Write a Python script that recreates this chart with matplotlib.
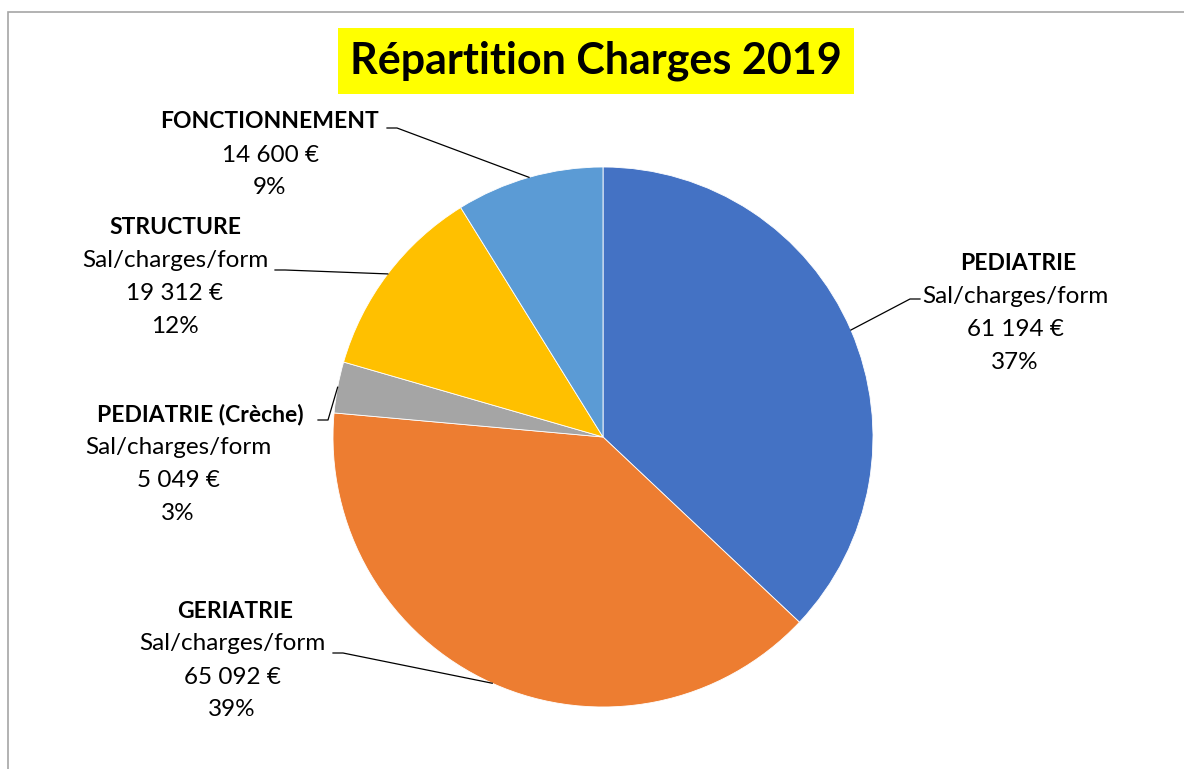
import numpy as np
import matplotlib
matplotlib.use("Agg")
import matplotlib.pyplot as plt
from matplotlib.patches import Rectangle

# data
categories = ["PEDIATRIE", "GERIATRIE", "PEDIATRIE (Crèche)", "STRUCTURE", "FONCTIONNEMENT"]
subtitles = ["Sal/charges/form", "Sal/charges/form", "Sal/charges/form", "Sal/charges/form", None]
amounts = [61194, 65092, 5049, 19312, 14600]
colors = ["#4472C4", "#ED7D31", "#A5A5A5", "#FFC000", "#5B9BD5"]

plt.rcParams['font.family'] = ['Lato', 'DejaVu Sans']

W, H = 1184, 769
CX, CY, R = 603, 437, 270  # pie centre / radius in pixels


def to_data(px, py):
    return (px - CX) / R, (CY - py) / R


fig = plt.figure(figsize=(W / 100, H / 100), dpi=100)
ax = fig.add_axes([0, 0, 1, 1])

wedges, _ = ax.pie(amounts, colors=colors, startangle=90, counterclock=False,
                   radius=1, center=(0, 0), frame=True,
                   wedgeprops=dict(edgecolor="white", linewidth=0.6))
ax.set_xlim(-CX / R, (W - CX) / R)
ax.set_ylim(-(H - CY) / R, CY / R)
ax.axis("off")

total = sum(amounts)

# label layout: centre x of text block, y of first line, leader start (px)
label_pos = [(1015, 264), (232, 611), (178, 415), (175, 228), (270, 122)]
name_dx = [3, 3, 22, 0, 0]  # bold name line is offset a little
leader_start = [(920, 299), (333, 653), (318, 420), (275, 270), (387, 128)]
leader_dir = [-1, 1, 1, 1, 1]
line_gap = 33

for i, w in enumerate(wedges):
    lx, ly = label_pos[i]
    lines = [categories[i]]
    if subtitles[i]:
        lines.append(subtitles[i])
    lines.append(f"{amounts[i]:,} €".replace(",", " "))
    lines.append(f"{round(amounts[i] / total * 100)}%")
    for k, t in enumerate(lines):
        dx = name_dx[i] if k == 0 else 0
        x, y = to_data(lx + dx, ly + k * line_gap)
        ax.text(x, y, t, ha="center", va="center",
                fontsize=16.5 if k == 0 else 17.5,
                fontweight="bold" if k == 0 else "normal", color="black")
    # leader line to the middle of the wedge edge
    mid = np.deg2rad((w.theta1 + w.theta2) / 2)
    ex, ey = np.cos(mid), np.sin(mid)
    sx, sy = to_data(*leader_start[i])
    kx = sx + leader_dir[i] * 10 / R
    ax.plot([sx, kx, ex], [sy, sy, ey], color="black", lw=0.9)

# title with yellow box
tx, ty = to_data(596, 61)
ax.text(tx, ty, "Répartition Charges 2019", ha="center", va="center",
        fontsize=31, fontweight="bold", color="black",
        bbox=dict(facecolor="#FFFF00", edgecolor="none", pad=9))

# chart frame
fig.patches.append(Rectangle((8 / W, -0.1), 1.2, 1.1 - 12 / H, transform=fig.transFigure,
                             fill=False, edgecolor="#A6A6A6", linewidth=1.2))

fig.savefig("out.png", dpi=100)
